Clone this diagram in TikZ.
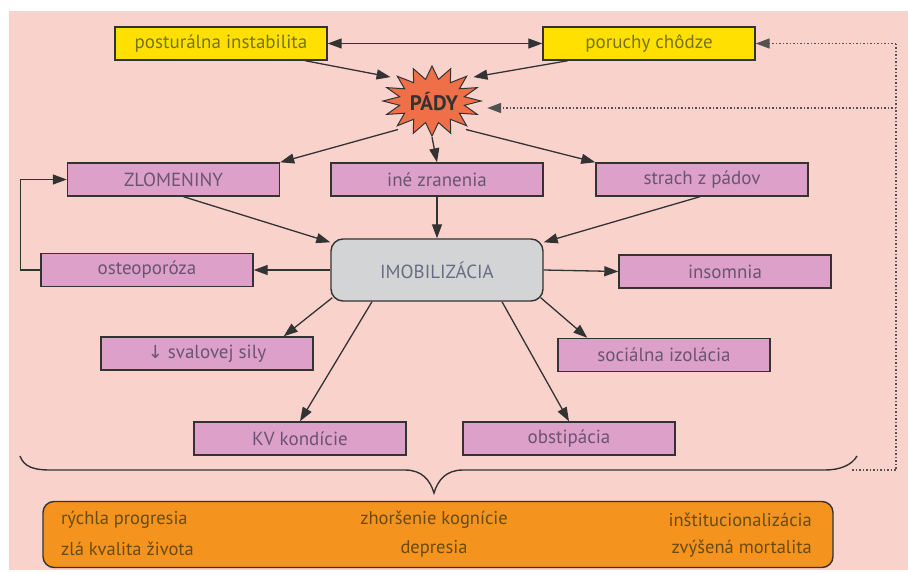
\documentclass[tikz,border=0pt]{standalone}
\usepackage{fontspec}
\setmainfont{PT Sans}
\newfontfamily\symfont{DejaVu Sans}
\usetikzlibrary{arrows.meta,shapes.geometric,calc}
\definecolor{bgpink}{HTML}{F9D3CB}
\definecolor{yel}{HTML}{FFE000}
\definecolor{mauve}{HTML}{DCA0C9}
\definecolor{mtext}{HTML}{6B5470}
\definecolor{ytext}{HTML}{76741A}
\definecolor{starc}{HTML}{EE6F48}
\definecolor{greyc}{HTML}{D3D4D6}
\definecolor{gtext}{HTML}{6A6C84}
\definecolor{orangec}{HTML}{F5931F}
\definecolor{otext}{HTML}{6A4C12}
\definecolor{linec}{HTML}{333333}
\begin{document}
\begin{tikzpicture}[x=1pt,y=-1pt,
  basebox/.style={draw=linec, line width=1.4pt, minimum width=212pt, minimum height=33pt, inner sep=0pt, font=\fontsize{19}{22}\selectfont},
  mbox/.style={basebox, fill=mauve, text=mtext},
  ybox/.style={basebox, fill=yel, text=ytext},
  tip/.style={-{Triangle[length=14pt,width=10pt]}},
  arr/.style={draw=linec, line width=1.3pt, tip},
  dotl/.style={draw=linec!85, line width=1.5pt, dotted},
  otxt/.style={text=otext, font=\fontsize{18.5}{22}\selectfont, inner sep=0pt}
]
\useasboundingbox (0,0) rectangle (908,573);
\fill[white] (0,0) rectangle (908,573);
\fill[bgpink] (9,11) rectangle (908,570);

% top yellow boxes
\node[ybox] (post) at (221,43.5) {posturálna instabilita};
\node[ybox] (por) at (649,43.5) {poruchy chôdze};

% star
\draw[fill=starc, draw=linec, line width=1pt]
  ($(432,101)+(90:49 and 35)$)
  \foreach \k in {0,...,15}{
    -- ($(432,101)+(90+22.5*\k+11.25:33 and 22)$)
    -- ($(432,101)+(90+22.5*\k+22.5:49 and 35)$)
  } -- cycle;
\node[ellipse, minimum width=110pt, minimum height=72pt, inner sep=0pt] (pady) at (432,101) {};
\node[font=\fontsize{21}{24}\selectfont\bfseries, text=linec] (padyt) at (434,101) {PÁDY};

% second row
\node[mbox] (zlom) at (173.5,179.5) {ZLOMENINY};
\node[mbox] (ine) at (437,179.5) {iné zranenia};
\node[mbox] (strach) at (702,179.5) {strach z pádov};

% imobilizacia
\node[draw=linec, line width=1.4pt, fill=greyc, rounded corners=12pt, minimum width=212pt, minimum height=62pt, text=gtext, font=\fontsize{19}{22}\selectfont] (imob) at (437,270) {IMOBILIZÁCIA};

\node[mbox] (osteo) at (147,270) {osteoporóza};
\node[mbox] (ins) at (725,271.5) {insomnia};
\node[mbox] (sval) at (207,353.5) {{\symfont\fontsize{18}{22}\selectfont↓} svalovej sily};
\node[mbox] (soc) at (664,355) {sociálna izolácia};
\node[mbox] (kv) at (300,438.5) {KV kondície};
\node[mbox] (obst) at (569,438.5) {obstipácia};

% arrows top
\draw[arr, {Triangle[length=14pt,width=10pt]}-{Triangle[length=14pt,width=10pt]}] (post.east) -- (por.west);
\draw[arr] ($(post.south)+(84,0)$) -- (pady.150);
\draw[arr] ($(por.south)+(-81,0)$) -- (pady.30);
\draw[arr] (pady.220) -- (zlom.north east);
\draw[arr] (pady.south) -- (ine.north);
\draw[arr] (pady.-40) -- (strach.north west);

% to imob
\draw[arr] ($(zlom.south)+(10,0)$) -- ($(imob.north west)+(0,4)$);
\draw[arr] (ine.south) -- (imob.north);
\draw[arr] ($(strach.south)+(-2,0)$) -- ($(imob.north east)+(0,4)$);

% from imob
\draw[arr] (imob.west) -- (osteo.east);
\draw[arr] (osteo.west) -- ++(-20,0) |- (zlom.west);
\draw[arr] (imob.east) -- (ins.west);
\draw[arr] ($(imob.south west)+(2,-4)$) -- ($(sval.north east)+(-30,0)$);
\draw[arr] ($(imob.south)+(-65,0)$) -- (kv.north);
\draw[arr] ($(imob.south)+(65,0)$) -- (obst.north);
\draw[arr] ($(imob.south east)+(-3,-4)$) -- ($(soc.north west)+(30,0)$);

% brace
\draw[linec, line width=1.4pt] (20,456) .. controls (24,467) and (34,470) .. (50,470) -- (405,470) .. controls (422,470) and (430,480) .. (434,493) .. controls (438,480) and (446,470) .. (463,470) -- (825,470) .. controls (840,470) and (852,465) .. (857,456);

% dotted feedback
\coordinate (dS) at (852,470);
\coordinate (dB) at (896,470);
\coordinate (dT) at (896,43.5);
\coordinate (dM) at (896,108);
\draw[dotl] (dS) -- (dB) -- (dT);
\draw[dotl, tip] (dT) -- (por.east);
\draw[dotl, tip] (dM) -- (dM -| pady.east);

% outcome box
\node[draw=linec, line width=1.4pt, fill=orangec, rounded corners=11pt, minimum width=790pt, minimum height=66pt, inner sep=0pt] (out) at (438,534.5) {};
\node[otxt, anchor=west] (o1) at (61,520) {rýchla progresia};
\node[otxt, anchor=west] (o4) at (61,549) {zlá kvalita života};
\node[otxt] (o2) at (434,520) {zhoršenie kognície};
\node[otxt] (o5) at (434,549) {depresia};
\node[otxt, anchor=east] (o3) at (812,520) {inštitucionalizácia};
\node[otxt, anchor=east] (o6) at (812,549) {zvýšená mortalita};
\end{tikzpicture}
\end{document}
